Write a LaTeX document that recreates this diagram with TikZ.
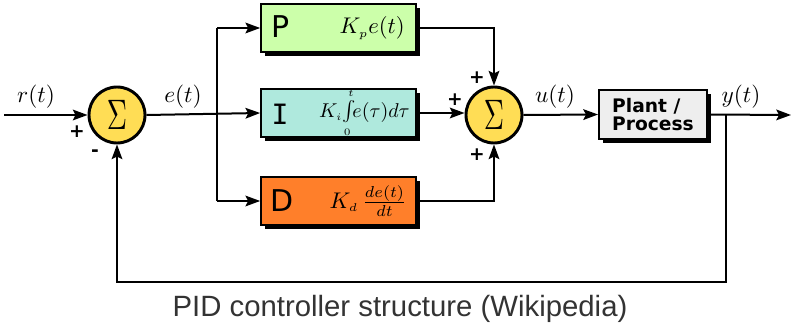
\documentclass[tikz,border=0pt]{standalone}
\usepackage{graphicx}
\usepackage{fontspec}
\setsansfont{DejaVu Sans}
\newfontfamily\capfont{Liberation Sans}
\newfontfamily\monoI{DejaVu Sans Mono}
\usetikzlibrary{arrows.meta,shadows}
\definecolor{pgreen}{HTML}{CCFFAA}
\definecolor{icyan}{HTML}{AFE9DD}
\definecolor{dorange}{HTML}{FF7F2A}
\definecolor{sumyellow}{HTML}{FFDD55}
\definecolor{plantgray}{HTML}{EEEEEE}
\definecolor{capgray}{HTML}{333333}
\newcommand{\mathbig}[2]{\scalebox{#1}{$#2$}}
\begin{document}
\begin{tikzpicture}[x=0.75pt,y=-0.75pt,
  wire/.style={line width=1.5pt},
  arr/.style={line width=1.5pt,-{Stealth[length=11pt,width=8pt,inset=2pt]}},
  sumnode/.style={circle,draw,line width=2.2pt,fill=sumyellow,minimum size=42pt,inner sep=0pt},
  blockbox/.style={rectangle,draw,line width=1.5pt,minimum width=116pt,minimum height=36pt,inner sep=0pt,
    drop shadow={shadow xshift=3pt,shadow yshift=-3pt,fill=black,opacity=1}},
  pm/.style={font=\sffamily\bfseries\fontsize{14}{14}\selectfont},
  letter/.style={font=\sffamily\fontsize{22.5}{22.5}\selectfont},
  expr/.style={anchor=east,inner sep=0pt}]
\useasboundingbox (0,0) rectangle (793,324);

% summing junctions
\node[sumnode] (s1) at (117,115) {\scalebox{2.1}[3.2]{$\Sigma$}};
\node[sumnode] (s2) at (494,115) {\scalebox{2.1}[3.2]{$\Sigma$}};

% PID blocks
\node[blockbox,fill=pgreen] (P) at (338.5,28) {};
\node[blockbox,fill=icyan] (I) at (338.5,113) {};
\node[blockbox,fill=dorange] (D) at (338.5,201) {};
\node[blockbox,fill=plantgray,minimum width=81pt,minimum height=37pt] (plant) at (653,114.5) {};

% block texts
\node[letter] (Pl) at (281,27) {P};
\node[font=\monoI\fontsize{21}{21}\selectfont] (Il) at (280,114) {I};
\node[letter] (Dl) at (282,201) {D};
\node[expr] (Pe) at (405,28) {\mathbig{1.7}{K_{\scriptscriptstyle p}e(t)}};
\node[expr] (Ie) at (410,113) {\mathbig{1.5}{K_{\scriptscriptstyle i}\!\int\limits_{\scriptscriptstyle 0}^{\scriptscriptstyle t}\!\! e(\tau)d\tau}};
\node[expr] (De) at (407,201) {\mathbig{1.7}{K_{\scriptscriptstyle d}\,\frac{de(t)}{dt}}};
\node[font=\sffamily\bfseries\fontsize{14}{13.5}\selectfont,align=left] (pt) at (653,115) {Plant /\\Process};

% coordinates
\coordinate (in) at (4,115);
\coordinate (br) at (217,115);
\coordinate (out) at (791,115);
\coordinate (fb) at (726,115);
\coordinate (fbc) at (726,282);

% connectors
\draw[arr] (in) -- (s1.west);
\draw[arr] (s1.east) -- (I.west);
\draw[wire] (br |- P.west) -- (br |- D.west);
\draw[arr] (br |- P.west) -- (P.west);
\draw[arr] (br |- D.west) -- (D.west);
\draw[arr] (P.east) -| (s2.north);
\draw[arr] (I.east) -- (I.east -| s2.west);
\draw[arr] (D.east) -| (s2.south);
\draw[arr] (s2.east) -- (plant.west);
\draw[arr] (plant.east) -- (out);
\draw[arr] (fb) -- (fbc) -| (s1.south);

% signal labels
\node (rl) at (36,97) {\mathbig{1.75}{r(t)}};
\node (el) at (183,97) {\mathbig{1.75}{e(t)}};
\node (ul) at (555,97) {\mathbig{1.75}{u(t)}};
\node (yl) at (741,97) {\mathbig{1.75}{y(t)}};

% signs
\node[pm] (p1) at (77,132) {+};
\node[pm] (m1) at (95,153) {-};
\node[pm] (p2) at (477,78) {+};
\node[pm] (p3) at (455,100) {+};
\node[pm] (p4) at (477,155) {+};

% caption
\node[font=\capfont\fontsize{22}{22}\selectfont,text=capgray,anchor=base] (cap) at (400,316) {PID controller structure (Wikipedia)};
\end{tikzpicture}
\end{document}
